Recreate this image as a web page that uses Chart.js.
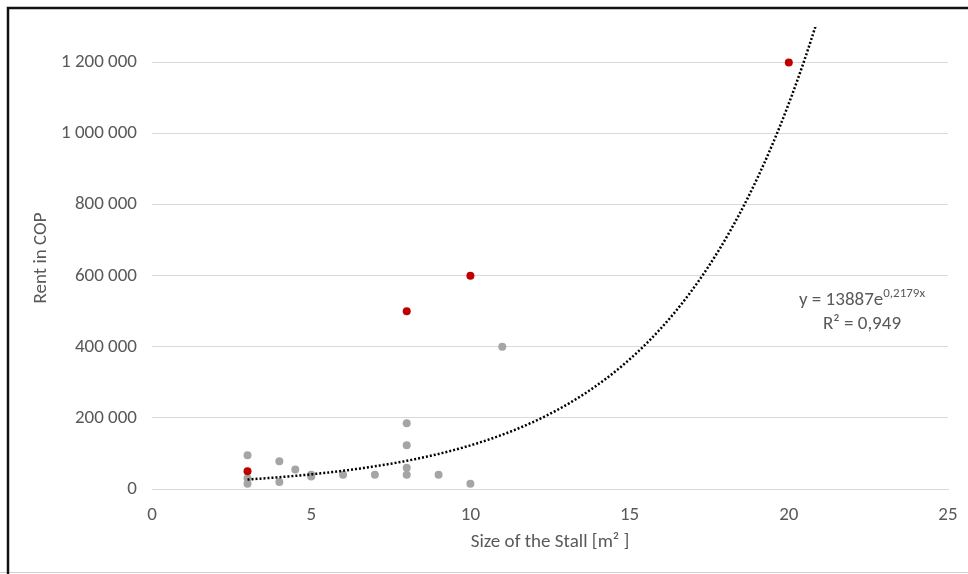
<!DOCTYPE html>
<html>
<head>
<meta charset="utf-8">
<title>Rent vs stall size</title>
<script src="https://cdn.jsdelivr.net/npm/chart.js@4.4.1/dist/chart.umd.min.js"></script>
<style>
  html, body { margin: 0; padding: 0; background: #fff; }
  #wrap { width: 968px; height: 574px; position: relative; }
</style>
</head>
<body>
<div id="wrap"><canvas id="c" width="968" height="574"></canvas></div>
<script>
// Stall sizes (m²) and monthly rents (COP)
const stallSize = [3, 3, 3, 4, 4, 4.5, 5, 5, 6, 7, 8, 8, 8, 8, 9, 10, 11];
const stallRent = [95000, 30000, 15000, 78000, 20000, 55000, 40000, 35000, 40000, 40000,
                   185000, 123000, 60000, 40000, 40000, 15000, 400000];

// Highlighted stalls
const highlightSize = [3, 8, 10, 20];
const highlightRent = [50000, 500000, 600000, 1200000];

// Exponential trendline y = a·e^(b·x), coefficients as reported in the label
const trendA = 13887;
const trendB = 0.2179;
const trendR2 = '0,949';
const trendFrom = 3;
const trendTo = 21;

const xTicks = [0, 5, 10, 15, 20, 25];
const yTicks = [0, 200000, 400000, 600000, 800000, 1000000, 1200000];

const toPoints = (xs, ys) => xs.map((x, i) => ({ x, y: ys[i] }));
const trendPoints = [];
for (let i = 0; i <= (trendTo - trendFrom) * 20; i++) {
  const x = trendFrom + i / 20;
  trendPoints.push({ x, y: trendA * Math.exp(trendB * x) });
}

const FONT = "Carlito, Calibri, Lato, 'Liberation Sans', sans-serif";
const TEXT = '#595959';
const FS = 19;

const fmt = v => String(Math.round(v)).replace(/\B(?=(\d{3})+(?!\d))/g, ' ');

// White page, the frame around the chart, and the trendline equation
const decor = {
  id: 'decor',
  beforeDraw(chart) {
    const ctx = chart.ctx;
    ctx.save();
    ctx.fillStyle = '#fff';
    ctx.fillRect(0, 0, chart.width, chart.height);
    ctx.strokeStyle = '#d0d0d0';
    ctx.lineWidth = 1;
    ctx.beginPath();
    ctx.moveTo(0, 572.5); ctx.lineTo(chart.width, 572.5);
    ctx.stroke();
    ctx.strokeStyle = '#111';
    ctx.lineWidth = 2.5;
    ctx.beginPath();
    ctx.moveTo(8, chart.height);
    ctx.lineTo(8, 8);
    ctx.lineTo(chart.width, 8);
    ctx.stroke();
    ctx.restore();
  },
  afterDraw(chart) {
    const ctx = chart.ctx;
    ctx.save();
    ctx.fillStyle = TEXT;
    ctx.textBaseline = 'alphabetic';
    const main = 'y = ' + trendA + 'e';
    const sup = String(trendB).replace('.', ',') + 'x';
    ctx.font = FS + 'px ' + FONT;
    const wMain = ctx.measureText(main).width;
    ctx.font = '13px ' + FONT;
    const wSup = ctx.measureText(sup).width;
    const cx = 862;
    const x0 = cx - (wMain + wSup) / 2;
    ctx.font = FS + 'px ' + FONT;
    ctx.textAlign = 'left';
    ctx.fillText(main, x0, 305);
    ctx.font = '13px ' + FONT;
    ctx.fillText(sup, x0 + wMain, 297);
    ctx.font = FS + 'px ' + FONT;
    ctx.textAlign = 'center';
    ctx.fillText('R² = ' + trendR2, cx, 329);
    ctx.restore();
  }
};

new Chart(document.getElementById('c'), {
  type: 'scatter',
  data: {
    datasets: [
      {
        label: 'Trend',
        data: trendPoints,
        showLine: true,
        pointRadius: 0,
        borderColor: '#000',
        borderWidth: 2.5,
        borderDash: [2, 2],
        borderCapStyle: 'butt',
        tension: 0,
        clip: 0,
        order: 0
      },
      {
        label: 'Highlighted',
        data: toPoints(highlightSize, highlightRent),
        pointRadius: 4,
        pointHoverRadius: 4,
        pointBackgroundColor: '#C00000',
        pointBorderColor: '#C00000',
        pointBorderWidth: 0,
        order: 1
      },
      {
        label: 'Stalls',
        data: toPoints(stallSize, stallRent),
        pointRadius: 4,
        pointHoverRadius: 4,
        pointBackgroundColor: '#A5A5A5',
        pointBorderColor: '#A5A5A5',
        pointBorderWidth: 0,
        order: 2
      }
    ]
  },
  options: {
    responsive: false,
    animation: false,
    events: [],
    layout: { autoPadding: false, padding: { top: 27, right: 20, left: 0, bottom: 0 } },
    plugins: { legend: { display: false }, tooltip: { enabled: false } },
    scales: {
      x: {
        type: 'linear',
        min: 0,
        max: 25,
        afterFit(s) { s.height = 85; s.paddingLeft = 0; s.paddingRight = 0; },
        afterBuildTicks(s) { s.ticks = xTicks.map(v => ({ value: v })); },
        grid: { display: false, drawTicks: false },
        border: { display: true, color: '#d9d9d9', width: 1 },
        ticks: { padding: 15, color: TEXT, font: { family: FONT, size: FS } },
        title: {
          display: true,
          text: 'Size of the Stall [m² ]',
          color: TEXT,
          font: { family: FONT, size: FS },
          padding: { top: 0, bottom: 20 }
        }
      },
      y: {
        type: 'linear',
        min: 0,
        max: 1300000,
        afterFit(s) { s.width = 152; s.paddingTop = 0; s.paddingBottom = 0; },
        afterBuildTicks(s) { s.ticks = yTicks.map(v => ({ value: v })); },
        grid: { color: '#d9d9d9', lineWidth: 1, drawTicks: false },
        border: { display: false },
        ticks: {
          padding: 15,
          color: TEXT,
          font: { family: FONT, size: FS },
          callback: v => fmt(v)
        },
        title: {
          display: true,
          text: 'Rent in COP',
          color: TEXT,
          font: { family: FONT, size: FS },
          padding: { top: 30, bottom: 0 }
        }
      }
    }
  },
  plugins: [decor]
});
</script>
</body>
</html>
